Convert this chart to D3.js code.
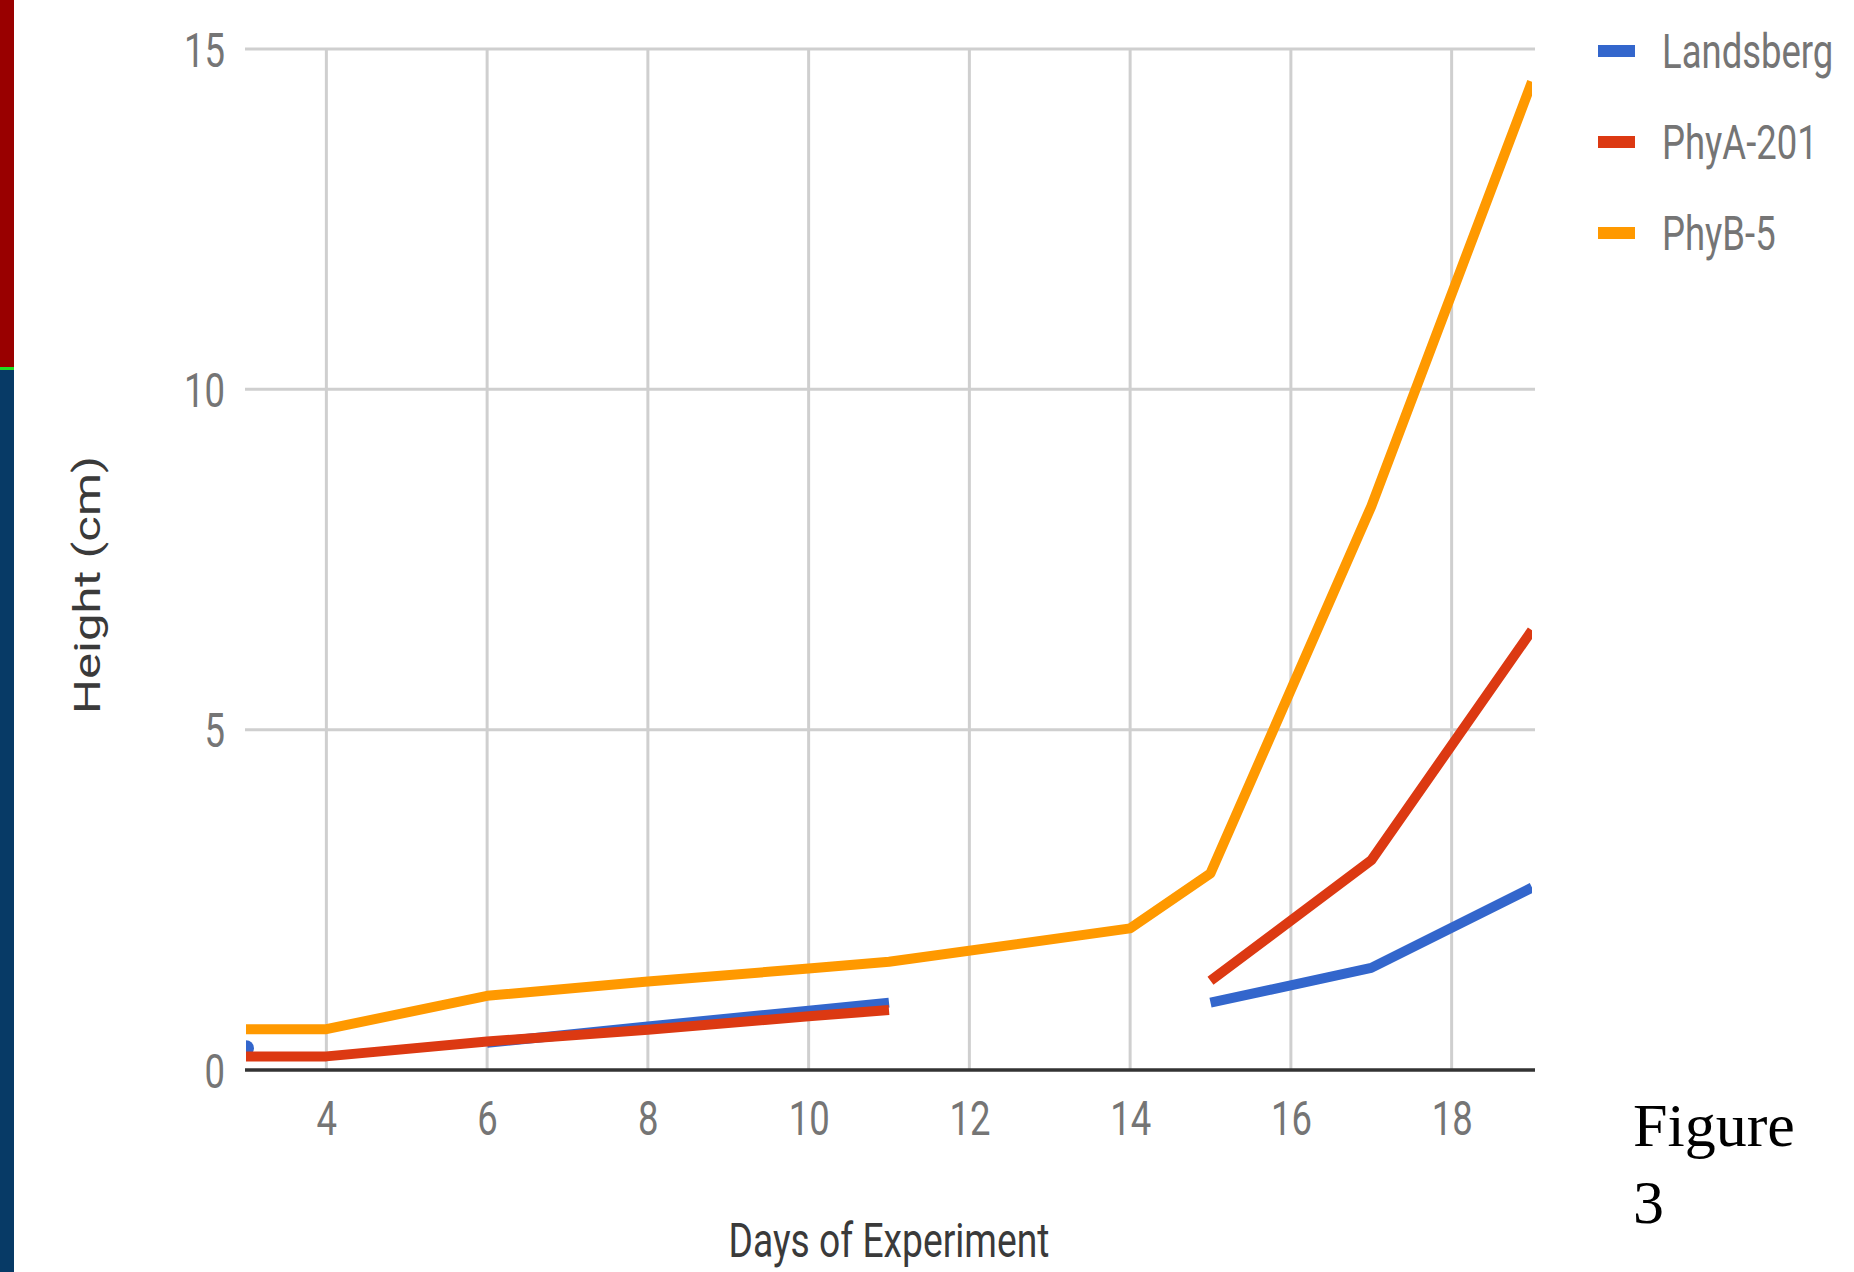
<!DOCTYPE html>
<html>
<head>
<meta charset="utf-8">
<script src="https://cdn.jsdelivr.net/npm/d3@7"></script>
<style>
  html, body { margin: 0; padding: 0; background: #fff; }
  svg { display: block; }
</style>
</head>
<body>
<svg id="chart" width="1854" height="1272"></svg>
<script>
// Plant height over the course of the experiment, three genotypes.
const days = [3, 4, 6, 8, 10, 11, 14, 15, 17, 19];
const landsberg = [0.32, null, 0.40, 0.64, 0.87, 0.99, null, 0.99, 1.50, 2.68];
const phyA201   = [0.20, 0.20, 0.42, 0.59, 0.79, 0.88, null, 1.31, 3.08, 6.46];
const phyB5     = [0.60, 0.60, 1.09, 1.30, 1.49, 1.59, 2.08, 2.89, 8.28, 14.52];

const seriesNames = ["Landsberg", "PhyA-201", "PhyB-5"];
const seriesColors = ["#3366cc", "#dc3912", "#ff9900"];
const xTicks = [4, 6, 8, 10, 12, 14, 16, 18];
const yTicks = [0, 5, 10, 15];

const series = [landsberg, phyA201, phyB5].map((vals, i) => ({
  name: seriesNames[i],
  color: seriesColors[i],
  points: days.map((d, j) => ({ day: d, v: vals[j] }))
}));

const svg = d3.select("#chart");
const squeeze = 0.76;   // narrow lettering
const labelFont = "Roboto, 'Noto Sans', sans-serif";

// side band
svg.append("rect").attr("x", 0).attr("y", 0).attr("width", 14).attr("height", 367).attr("fill", "#990000");
svg.append("rect").attr("x", 0).attr("y", 367).attr("width", 14).attr("height", 3).attr("fill", "#22dd22");
svg.append("rect").attr("x", 0).attr("y", 370).attr("width", 14).attr("height", 902).attr("fill", "#073a66");

const x = d3.scaleLinear().domain([3, 19]).range([246, 1532]);
const y = d3.scaleLinear().domain([0, 15]).range([1070, 49]);

// gridlines
const grid = svg.append("g");
grid.selectAll("line.v").data(xTicks).join("line")
  .attr("x1", d => x(d)).attr("x2", d => x(d))
  .attr("y1", y(15)).attr("y2", y(0))
  .attr("stroke", "#cfcfcf").attr("stroke-width", 3);
grid.selectAll("line.h").data(yTicks.filter(t => t > 0)).join("line")
  .attr("x1", x(3) - 1).attr("x2", x(19) + 3)
  .attr("y1", d => y(d)).attr("y2", d => y(d))
  .attr("stroke", "#cfcfcf").attr("stroke-width", 3);

// x axis labels
const xAxis = svg.append("g")
  .attr("transform", `translate(0,${y(0)})`)
  .call(d3.axisBottom(x).tickValues(xTicks).tickSize(0).tickFormat(d3.format("d")));
xAxis.select(".domain").remove();
xAxis.selectAll("text")
  .attr("y", 0).attr("dy", 0)
  .attr("transform", `translate(0,65) scale(${squeeze},1)`)
  .attr("fill", "#757575")
  .style("font-family", labelFont).style("font-size", "48px");

// y axis labels
const yAxis = svg.append("g")
  .attr("transform", `translate(${x(3)},0)`)
  .call(d3.axisLeft(y).tickValues(yTicks).tickSize(0).tickFormat(d3.format("d")));
yAxis.select(".domain").remove();
yAxis.selectAll("text")
  .attr("x", 0).attr("dy", 0)
  .attr("transform", `translate(-21,17) scale(${squeeze},1)`)
  .attr("fill", "#757575")
  .style("font-family", labelFont).style("font-size", "48px");

// baseline
svg.append("line")
  .attr("x1", x(3) - 1).attr("x2", x(19) + 3)
  .attr("y1", y(0)).attr("y2", y(0))
  .attr("stroke", "#333").attr("stroke-width", 3.5);

// plot area clip
svg.append("clipPath").attr("id", "plot-clip")
  .append("rect")
  .attr("x", x(3)).attr("y", 0)
  .attr("width", x(19) - x(3)).attr("height", y(0) + 20);

const plot = svg.append("g").attr("clip-path", "url(#plot-clip)");
const line = d3.line()
  .defined(d => d.v != null)
  .x(d => x(d.day))
  .y(d => y(d.v));

series.forEach(s => {
  plot.append("path")
    .datum(s.points)
    .attr("d", line)
    .attr("fill", "none")
    .attr("stroke", s.color)
    .attr("stroke-width", 10)
    .attr("stroke-linejoin", "round")
    .attr("stroke-linecap", "butt");
  // points with no neighbours get a dot
  const lonely = s.points.filter((p, i) =>
    p.v != null &&
    (i === 0 || s.points[i - 1].v == null) &&
    (i === s.points.length - 1 || s.points[i + 1].v == null));
  plot.selectAll(null).data(lonely).join("circle")
    .attr("cx", d => x(d.day)).attr("cy", d => y(d.v))
    .attr("r", 8).attr("fill", s.color);
});

// legend
const legend = svg.append("g");
series.forEach((s, i) => {
  const cy = 51 + i * 91;
  legend.append("rect")
    .attr("x", 1598).attr("y", cy - 6).attr("width", 37).attr("height", 12)
    .attr("fill", s.color);
  legend.append("text")
    .attr("transform", `translate(1662,${cy + 17}) scale(${squeeze},1)`)
    .attr("fill", "#757575")
    .style("font-family", labelFont).style("font-size", "48px")
    .text(s.name);
});

// axis titles
svg.append("text")
  .attr("transform", `translate(${(x(3) + x(19)) / 2},1257) scale(${squeeze},1)`)
  .attr("text-anchor", "middle")
  .attr("fill", "#3a3a3a")
  .style("font-family", labelFont).style("font-size", "49px")
  .text("Days of Experiment");

svg.append("text")
  .attr("transform", `translate(100,585) scale(${squeeze},1) rotate(-90)`)
  .attr("text-anchor", "middle")
  .attr("fill", "#3a3a3a")
  .style("font-family", labelFont).style("font-size", "49px")
  .text("Height (cm)");

// caption
const cap = svg.append("text")
  .attr("x", 1633).attr("y", 1146)
  .attr("fill", "#000")
  .style("font-family", "'Liberation Serif', 'Times New Roman', serif")
  .style("font-size", "62px");
cap.append("tspan").attr("x", 1633).text("Figure");
cap.append("tspan").attr("x", 1633).attr("dy", 77).text("3");
</script>
</body>
</html>
